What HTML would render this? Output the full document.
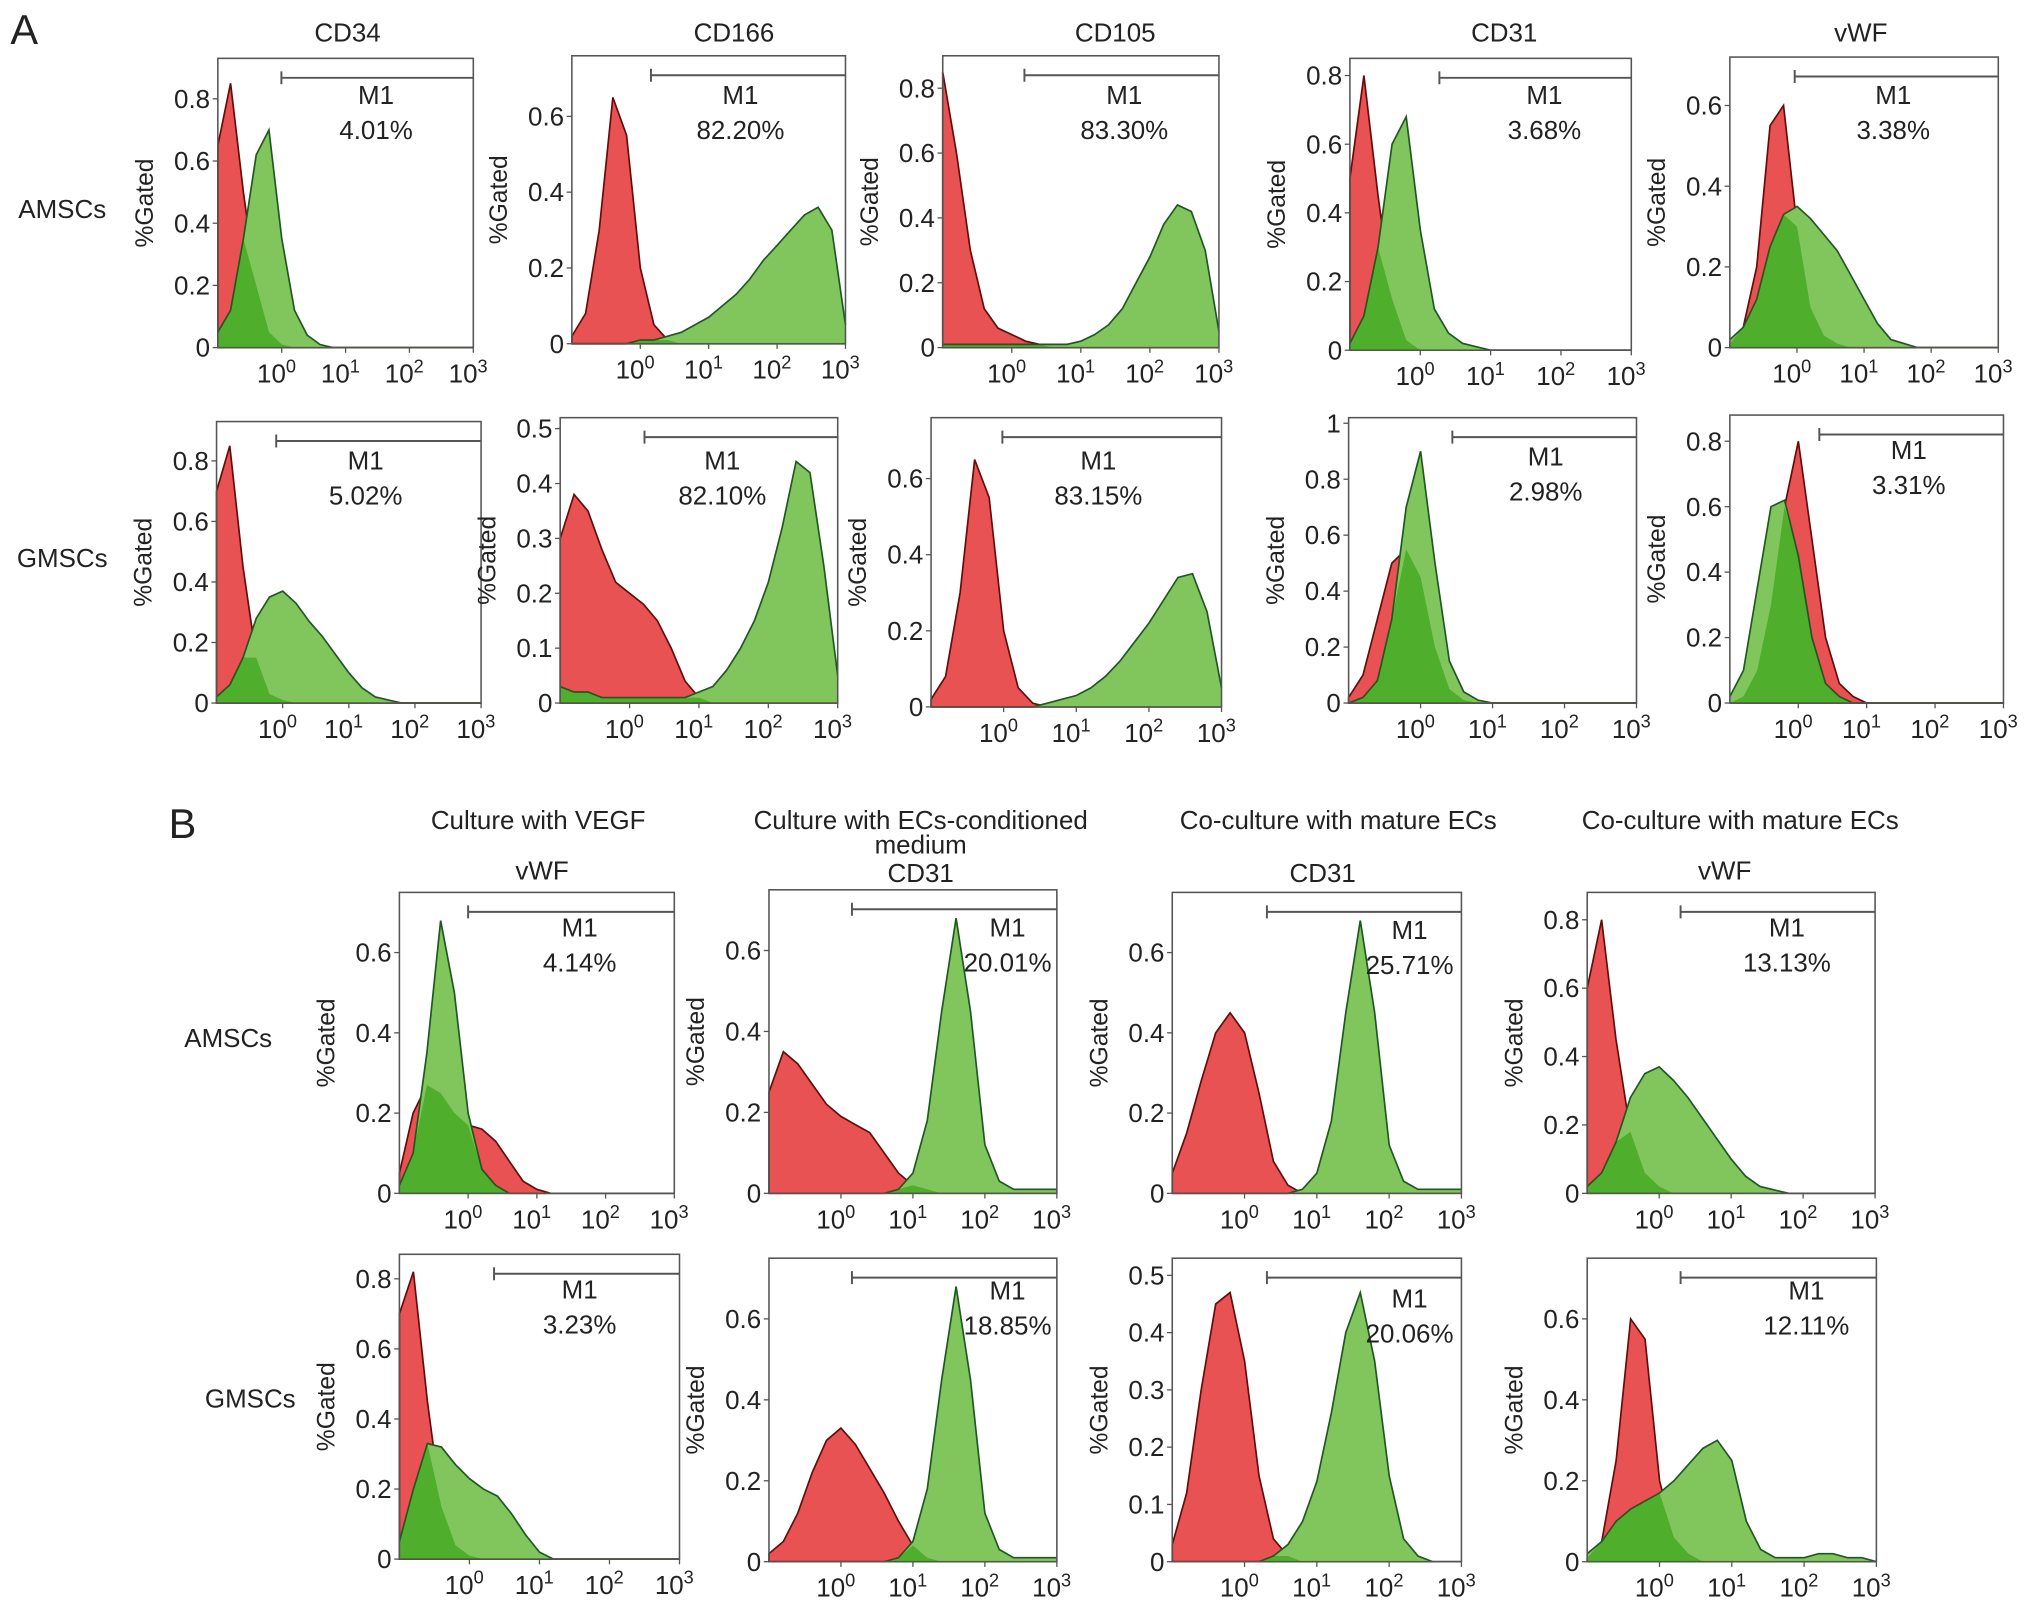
<!DOCTYPE html>
<html><head><meta charset="utf-8"><style>
html,body{margin:0;padding:0;background:#fff;}
svg{display:block;font-family:"Liberation Sans",Arial,sans-serif;}
</style></head><body>
<svg id="fig" width="2032" height="1611" viewBox="0 0 1567 1242" preserveAspectRatio="none" xmlns="http://www.w3.org/2000/svg">
<g id="static" fill="#222">
<text x="8" y="34" font-size="32">A</text>
<text x="130" y="646" font-size="32">B</text>
<g font-size="20" text-anchor="middle">
<text x="268" y="32">CD34</text>
<text x="566" y="32">CD166</text>
<text x="860" y="32">CD105</text>
<text x="1160" y="32">CD31</text>
<text x="1435" y="32">vWF</text>
<text x="48" y="168">AMSCs</text>
<text x="48" y="437">GMSCs</text>
<text x="176" y="807">AMSCs</text>
<text x="193" y="1085">GMSCs</text>
<text x="415" y="639">Culture with VEGF</text>
<text x="418" y="678">vWF</text>
<text x="710" y="639">Culture with ECs-conditioned</text>
<text x="710" y="658">medium</text>
<text x="710" y="680">CD31</text>
<text x="1032" y="639">Co-culture with mature ECs</text>
<text x="1020" y="680">CD31</text>
<text x="1342" y="639">Co-culture with mature ECs</text>
<text x="1330" y="678">vWF</text>
</g></g>
<g id="plots"></g>
</svg>
<script>
// x sample points: log10 from -1 to 3 step 0.2 (21 points)
const redA1a=[0.65,0.85,0.5,0.2,0.05,0.01,0,0,0,0,0,0,0,0,0,0,0,0,0,0,0];
const grnA1a=[0.05,0.12,0.35,0.62,0.7,0.35,0.12,0.04,0.01,0,0,0,0,0,0,0,0,0,0,0,0];
const redA1b=[0.02,0.08,0.3,0.65,0.55,0.2,0.05,0.01,0,0,0,0,0,0,0,0,0,0,0,0,0];
const grnA1b=[0,0,0,0,0,0.01,0.01,0.02,0.03,0.05,0.07,0.1,0.13,0.17,0.22,0.26,0.3,0.34,0.36,0.3,0.05];
const redA1c=[0.85,0.6,0.3,0.12,0.06,0.04,0.02,0.01,0,0,0,0,0,0,0,0,0,0,0,0,0];
const grnA1c=[0.01,0.01,0.01,0.01,0.01,0.01,0.01,0.01,0.01,0.01,0.02,0.04,0.07,0.12,0.2,0.28,0.38,0.44,0.42,0.3,0.05];
const redA1d=[0.5,0.8,0.45,0.15,0.03,0,0,0,0,0,0,0,0,0,0,0,0,0,0,0,0];
const grnA1d=[0.02,0.1,0.3,0.6,0.68,0.35,0.12,0.05,0.02,0.01,0,0,0,0,0,0,0,0,0,0,0];
const redA1e=[0.01,0.05,0.2,0.55,0.6,0.3,0.1,0.03,0.01,0,0,0,0,0,0,0,0,0,0,0,0];
const grnA1e=[0.02,0.05,0.12,0.25,0.33,0.35,0.32,0.28,0.24,0.18,0.12,0.06,0.02,0.01,0,0,0,0,0,0,0];
const redA2a=[0.7,0.85,0.45,0.15,0.03,0.01,0,0,0,0,0,0,0,0,0,0,0,0,0,0,0];
const grnA2a=[0.02,0.06,0.15,0.28,0.35,0.37,0.33,0.27,0.22,0.16,0.1,0.05,0.02,0.01,0,0,0,0,0,0,0];
const redA2b=[0.3,0.38,0.35,0.28,0.22,0.2,0.18,0.15,0.1,0.04,0.01,0,0,0,0,0,0,0,0,0,0];
const grnA2b=[0.03,0.02,0.02,0.01,0.01,0.01,0.01,0.01,0.01,0.01,0.02,0.03,0.06,0.1,0.15,0.22,0.32,0.44,0.42,0.25,0.05];
const redA2c=[0.02,0.08,0.3,0.65,0.55,0.2,0.05,0.01,0,0,0,0,0,0,0,0,0,0,0,0,0];
const grnA2c=[0,0,0,0,0,0,0,0,0.01,0.02,0.03,0.05,0.08,0.12,0.17,0.22,0.28,0.34,0.35,0.25,0.05];
const redA2d=[0.02,0.1,0.3,0.5,0.55,0.45,0.2,0.05,0.01,0,0,0,0,0,0,0,0,0,0,0,0];
const grnA2d=[0,0.02,0.08,0.3,0.7,0.9,0.5,0.15,0.04,0.01,0,0,0,0,0,0,0,0,0,0,0];
const redA2e=[0,0.02,0.1,0.3,0.6,0.8,0.5,0.2,0.06,0.02,0,0,0,0,0,0,0,0,0,0,0];
const grnA2e=[0.02,0.1,0.35,0.6,0.62,0.45,0.2,0.06,0.02,0,0,0,0,0,0,0,0,0,0,0,0];
const redB1a=[0.05,0.2,0.27,0.25,0.2,0.17,0.16,0.13,0.08,0.03,0.01,0,0,0,0,0,0,0,0,0,0];
const grnB1a=[0.02,0.1,0.35,0.68,0.5,0.2,0.06,0.02,0,0,0,0,0,0,0,0,0,0,0,0,0];
const redB1b=[0.25,0.35,0.32,0.27,0.22,0.19,0.17,0.15,0.1,0.05,0.02,0.01,0,0,0,0,0,0,0,0,0];
const grnB1b=[0,0,0,0,0,0,0,0,0,0.01,0.05,0.18,0.45,0.68,0.45,0.12,0.03,0.01,0.01,0.01,0.01];
const redB1c=[0.05,0.15,0.28,0.4,0.45,0.4,0.25,0.08,0.02,0,0,0,0,0,0,0,0,0,0,0,0];
const grnB1c=[0,0,0,0,0,0,0,0,0,0.01,0.05,0.18,0.45,0.68,0.45,0.12,0.03,0.01,0.01,0.01,0.01];
const redB1d=[0.6,0.8,0.45,0.18,0.06,0.02,0,0,0,0,0,0,0,0,0,0,0,0,0,0,0];
const grnB1d=[0.02,0.06,0.15,0.28,0.35,0.37,0.33,0.28,0.22,0.16,0.1,0.05,0.02,0.01,0,0,0,0,0,0,0];
const redB2a=[0.7,0.82,0.45,0.15,0.04,0.01,0,0,0,0,0,0,0,0,0,0,0,0,0,0,0];
const grnB2a=[0.05,0.2,0.33,0.32,0.27,0.23,0.2,0.18,0.13,0.07,0.02,0,0,0,0,0,0,0,0,0,0];
const redB2b=[0.02,0.05,0.12,0.22,0.3,0.33,0.29,0.23,0.17,0.1,0.04,0.01,0,0,0,0,0,0,0,0,0];
const grnB2b=[0,0,0,0,0,0,0,0,0,0.01,0.05,0.18,0.45,0.68,0.45,0.12,0.03,0.01,0.01,0.01,0.01];
const redB2c=[0.03,0.12,0.3,0.45,0.47,0.35,0.15,0.04,0.01,0,0,0,0,0,0,0,0,0,0,0,0];
const grnB2c=[0,0,0,0,0,0,0,0.01,0.03,0.07,0.14,0.26,0.4,0.47,0.35,0.15,0.04,0.01,0,0,0];
const redB2d=[0.01,0.05,0.25,0.6,0.55,0.2,0.06,0.02,0,0,0,0,0,0,0,0,0,0,0,0,0];
const grnB2d=[0.02,0.05,0.1,0.13,0.15,0.17,0.2,0.24,0.28,0.3,0.25,0.1,0.03,0.01,0.01,0.01,0.02,0.02,0.01,0.01,0];
const gatePct=["4.01%","82.20%","83.30%","3.68%","3.38%","5.02%","82.10%","83.15%","2.98%","3.31%","4.14%","20.01%","25.71%","13.13%","3.23%","18.85%","20.06%","12.11%"];
const redSeries=[redA1a,redA1b,redA1c,redA1d,redA1e,redA2a,redA2b,redA2c,redA2d,redA2e,redB1a,redB1b,redB1c,redB1d,redB2a,redB2b,redB2c,redB2d];
const grnSeries=[grnA1a,grnA1b,grnA1c,grnA1d,grnA1e,grnA2a,grnA2b,grnA2c,grnA2d,grnA2e,grnB1a,grnB1b,grnB1c,grnB1d,grnB2a,grnB2b,grnB2c,grnB2d];
const yMaxes=[0.93,0.76,0.9,0.85,0.72,0.93,0.52,0.76,1.02,0.88,0.75,0.75,0.75,0.88,0.87,0.75,0.53,0.75];
const yStep=[0.2,0.2,0.2,0.2,0.2,0.2,0.1,0.2,0.2,0.2,0.2,0.2,0.2,0.2,0.2,0.2,0.1,0.2];
const xTickExp=[0,1,2,3];

// layout (display coords): left, top, right, bottom, gate start x, label center x, label y offset
const layout=[
[168,45,365,268,217,290,35],[441,43,652,265,502,571,37],[727,43,940,268,790,867,37],[1041,45,1258,270,1110,1191,35],[1334,44,1541,268,1384,1460,36],
[167,325,371,542,213,282,37],[432,322,646,542,497,557,40],[718,322,942,545,773,847,40],[1040,322,1262,542,1120,1192,37],[1334,320,1545,542,1403,1472,34],
[308,688,520,920,361,447,34],[593,686,815,920,657,777,36],[904,688,1127,920,977,1087,36],[1224,688,1446,920,1296,1378,34],
[308,967,524,1202,381,447,34],[593,970,815,1204,657,777,32],[904,970,1127,1204,977,1087,38],[1224,970,1447,1204,1296,1393,32]];

const NS="http://www.w3.org/2000/svg";
const root=document.getElementById('plots');
function mk(tag,attrs,parent){const e=document.createElementNS(NS,tag);for(const k in attrs)e.setAttribute(k,attrs[k]);parent.appendChild(e);return e;}
function areaPath(vals,xs,ys){let d='M'+xs(-1)+','+ys(0);vals.forEach((v,i)=>{d+=' L'+xs(-1+i*0.2).toFixed(1)+','+ys(v).toFixed(1);});d+=' L'+xs(3)+','+ys(0)+' Z';return d;}
function linePath(vals,xs,ys){return vals.map((v,i)=>(i?'L':'M')+xs(-1+i*0.2).toFixed(1)+','+ys(v).toFixed(1)).join(' ');}

layout.forEach((L,p)=>{
  const [l,t,r,b,gx,lx,ly]=L;
  const xs=v=>l+(v+1)/4*(r-l);
  const ys=v=>b-v/yMaxes[p]*(b-t);
  const g=mk('g',{},root);
  
  
  const red=redSeries[p],grn=grnSeries[p];
  const ov=red.map((v,i)=>Math.min(v,grn[i]));
  const rp=mk('path',{d:areaPath(red,xs,ys),fill:'#e85252',stroke:'#6a0a0a','stroke-width':1.3},g);
  
  
  const gp=mk('path',{d:areaPath(grn,xs,ys),fill:'#80c65c',stroke:'none'},g);
  
  
  const op=mk('path',{d:areaPath(ov,xs,ys),fill:'#4fae2c',stroke:'none'},g);
  
  
  const gl=mk('path',{d:linePath(grn,xs,ys),fill:'none',stroke:'#1e5a1e','stroke-width':1.3},g);
  
  
  const fr=mk('rect',{x:l,y:t,width:r-l,height:b-t,fill:'none',stroke:'#555','stroke-width':1.2},g);
  
  
  for(let v=0;v<=yMaxes[p]+1e-9;v+=yStep[p]){
    const y=ys(v);
    mk('line',{x1:l-4,x2:l,y1:y,y2:y,stroke:'#555'},g);
    const tx=mk('text',{x:l-6,y:y+7,'font-size':20,'text-anchor':'end',fill:'#222'},g);
    
    
    const vv=Math.round(v*10)/10;
    tx.textContent=vv===0?'0':(vv===1?'1':String(vv));
  }
  xTickExp.forEach(e=>{
    const x=xs(e);
    mk('line',{x1:x,x2:x,y1:b,y2:b+4,stroke:'#555'},g);
    const tx=mk('text',{x:x-4,y:b+27,'font-size':20,'text-anchor':'middle',fill:'#222'},g);
    
    
    const a=mk('tspan',{},tx);a.textContent='10';
    const s=mk('tspan',{dy:-8,'font-size':14},tx);s.textContent=String(e);
  });
  const yl=mk('text',{x:0,y:0,'font-size':19,'text-anchor':'middle',fill:'#222',transform:'translate('+(l-50)+','+((t+b)/2)+') rotate(-90)'},g);
  
  
  yl.textContent='%Gated';
  const gy=t+15;
  const gate=mk('path',{d:'M'+gx+','+(gy-5)+' V'+(gy+5)+' M'+gx+','+gy+' H'+r,stroke:'#555','stroke-width':1.5,fill:'none'},g);
  
  
  const m1=mk('text',{x:lx,y:t+ly,'font-size':20,'text-anchor':'middle',fill:'#222'},g);
  
  
  m1.textContent='M1';
  const pc=mk('text',{x:lx,y:t+ly+27,'font-size':20,'text-anchor':'middle',fill:'#222'},g);
  
  
  pc.textContent=gatePct[p];
});
</script>
</body></html>
